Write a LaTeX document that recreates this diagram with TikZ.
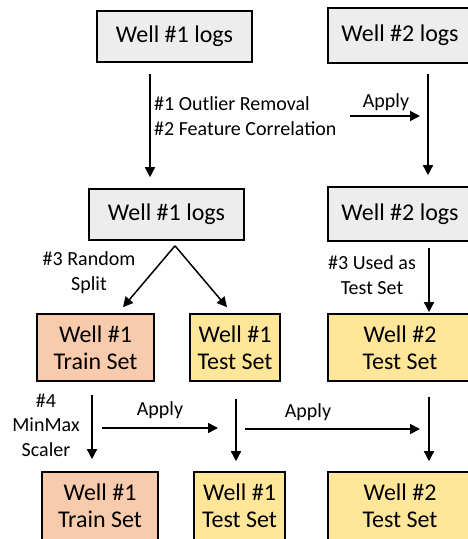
\documentclass[tikz,border=0pt]{standalone}
\usepackage{fontspec}
\setmainfont{Carlito}
\usetikzlibrary{arrows.meta}
\definecolor{WLGray}{HTML}{EDEDED}
\definecolor{WLTrain}{HTML}{F8CBAD}
\definecolor{WLTest}{HTML}{FFE699}
\tikzset{
  wellbox/.style={draw=black,line width=1.6pt,align=center,inner sep=0pt,
    font=\fontsize{24}{27}\selectfont},
  steplabel/.style={font=\fontsize{20}{24.5}\selectfont,inner sep=0pt},
  flow/.style={line width=1.5pt,-{Triangle[length=10pt,width=10pt]}}
}
\begin{document}
\begin{tikzpicture}[x=1pt,y=1pt]
\path[use as bounding box] (0,0) rectangle (467,539);
% row 1: raw logs
\node[wellbox,fill=WLGray,minimum width=155pt,minimum height=51pt] (w1raw) at (174.5,502.5) {Well \#1 logs};
\node[wellbox,fill=WLGray,minimum width=144pt,minimum height=55pt] (w2raw) at (400,503.5) {Well \#2 logs};
% row 2: cleaned logs
\node[wellbox,fill=WLGray,minimum width=155pt,minimum height=51pt] (w1log) at (166.5,324.5) {Well \#1 logs};
\node[wellbox,fill=WLGray,minimum width=144pt,minimum height=54pt] (w2log) at (400,325) {Well \#2 logs};
% row 3: split sets
\node[wellbox,fill=WLTrain,minimum width=117pt,minimum height=67pt] (w1train) at (95.5,191.5) {Well \#1\\Train Set};
\node[wellbox,fill=WLTest,minimum width=90pt,minimum height=67pt] (w1test) at (235,191.5) {Well \#1\\Test Set};
\node[wellbox,fill=WLTest,minimum width=144pt,minimum height=67pt] (w2test) at (400,191.5) {Well \#2\\Test Set};
% row 4: scaled sets
\node[wellbox,fill=WLTrain,minimum width=116pt,minimum height=68pt] (s1train) at (100,33) {Well \#1\\Train Set};
\node[wellbox,fill=WLTest,minimum width=91pt,minimum height=68pt] (s1test) at (239.5,33) {Well \#1\\Test Set};
\node[wellbox,fill=WLTest,minimum width=144pt,minimum height=68pt] (s2test) at (400,33) {Well \#2\\Test Set};

% labels
\node[steplabel,anchor=west,align=left] (prep) at (154,423) {\#1 Outlier Removal\\\#2 Feature Correlation};
\node[steplabel] (apply1) at (386,437) {Apply};
\node[steplabel,align=center] (split) at (89,266.5) {\#3 Random\\Split};
\node[steplabel,align=center] (used) at (372,264) {\#3 Used as\\Test Set};
\node[steplabel,align=center] (scaler) at (46,114) {\#4\\MinMax\\Scaler};
\node[steplabel] (apply2) at (160,129) {Apply};
\node[steplabel] (apply3) at (308,127) {Apply};

% connectors
\draw[flow] ([xshift=-24.5pt,yshift=-11pt]w1raw.south) -- ([xshift=-16.5pt,yshift=11pt]w1log.north);
\draw[flow] ([xshift=28pt,yshift=-10pt]w2raw.south) -- ([xshift=28pt,yshift=11pt]w2log.north);
\coordinate (a1s) at (350,423);
\coordinate (a1e) at (420,423);
\draw[flow] (a1s) -- (a1e);
\coordinate (fork) at ([xshift=8.5pt,yshift=-5pt]w1log.south);
\draw[flow] (fork) -- ([xshift=27.5pt,yshift=6pt]w1train.north);
\draw[flow] (fork) -- ([xshift=-8pt,yshift=6pt]w1test.north);
\draw[flow] ([xshift=29pt,yshift=-6pt]w2log.south) -- ([xshift=29pt,yshift=1pt]w2test.north);
\draw[flow] ([xshift=-3.5pt,yshift=-13pt]w1train.south) -- ([xshift=-8pt,yshift=12pt]s1train.north);
\draw[flow] ([xshift=1pt,yshift=-17pt]w1test.south) -- ([xshift=-3.5pt,yshift=10pt]s1test.north);
\draw[flow] ([xshift=29pt,yshift=-15pt]w2test.south) -- ([xshift=29pt,yshift=10pt]s2test.north);
\coordinate (a2s) at (102,111);
\coordinate (a2e) at (218,111);
\draw[flow] (a2s) -- (a2e);
\coordinate (a3s) at (245,110);
\coordinate (a3e) at (420,110);
\draw[flow] (a3s) -- (a3e);
\end{tikzpicture}
\end{document}
